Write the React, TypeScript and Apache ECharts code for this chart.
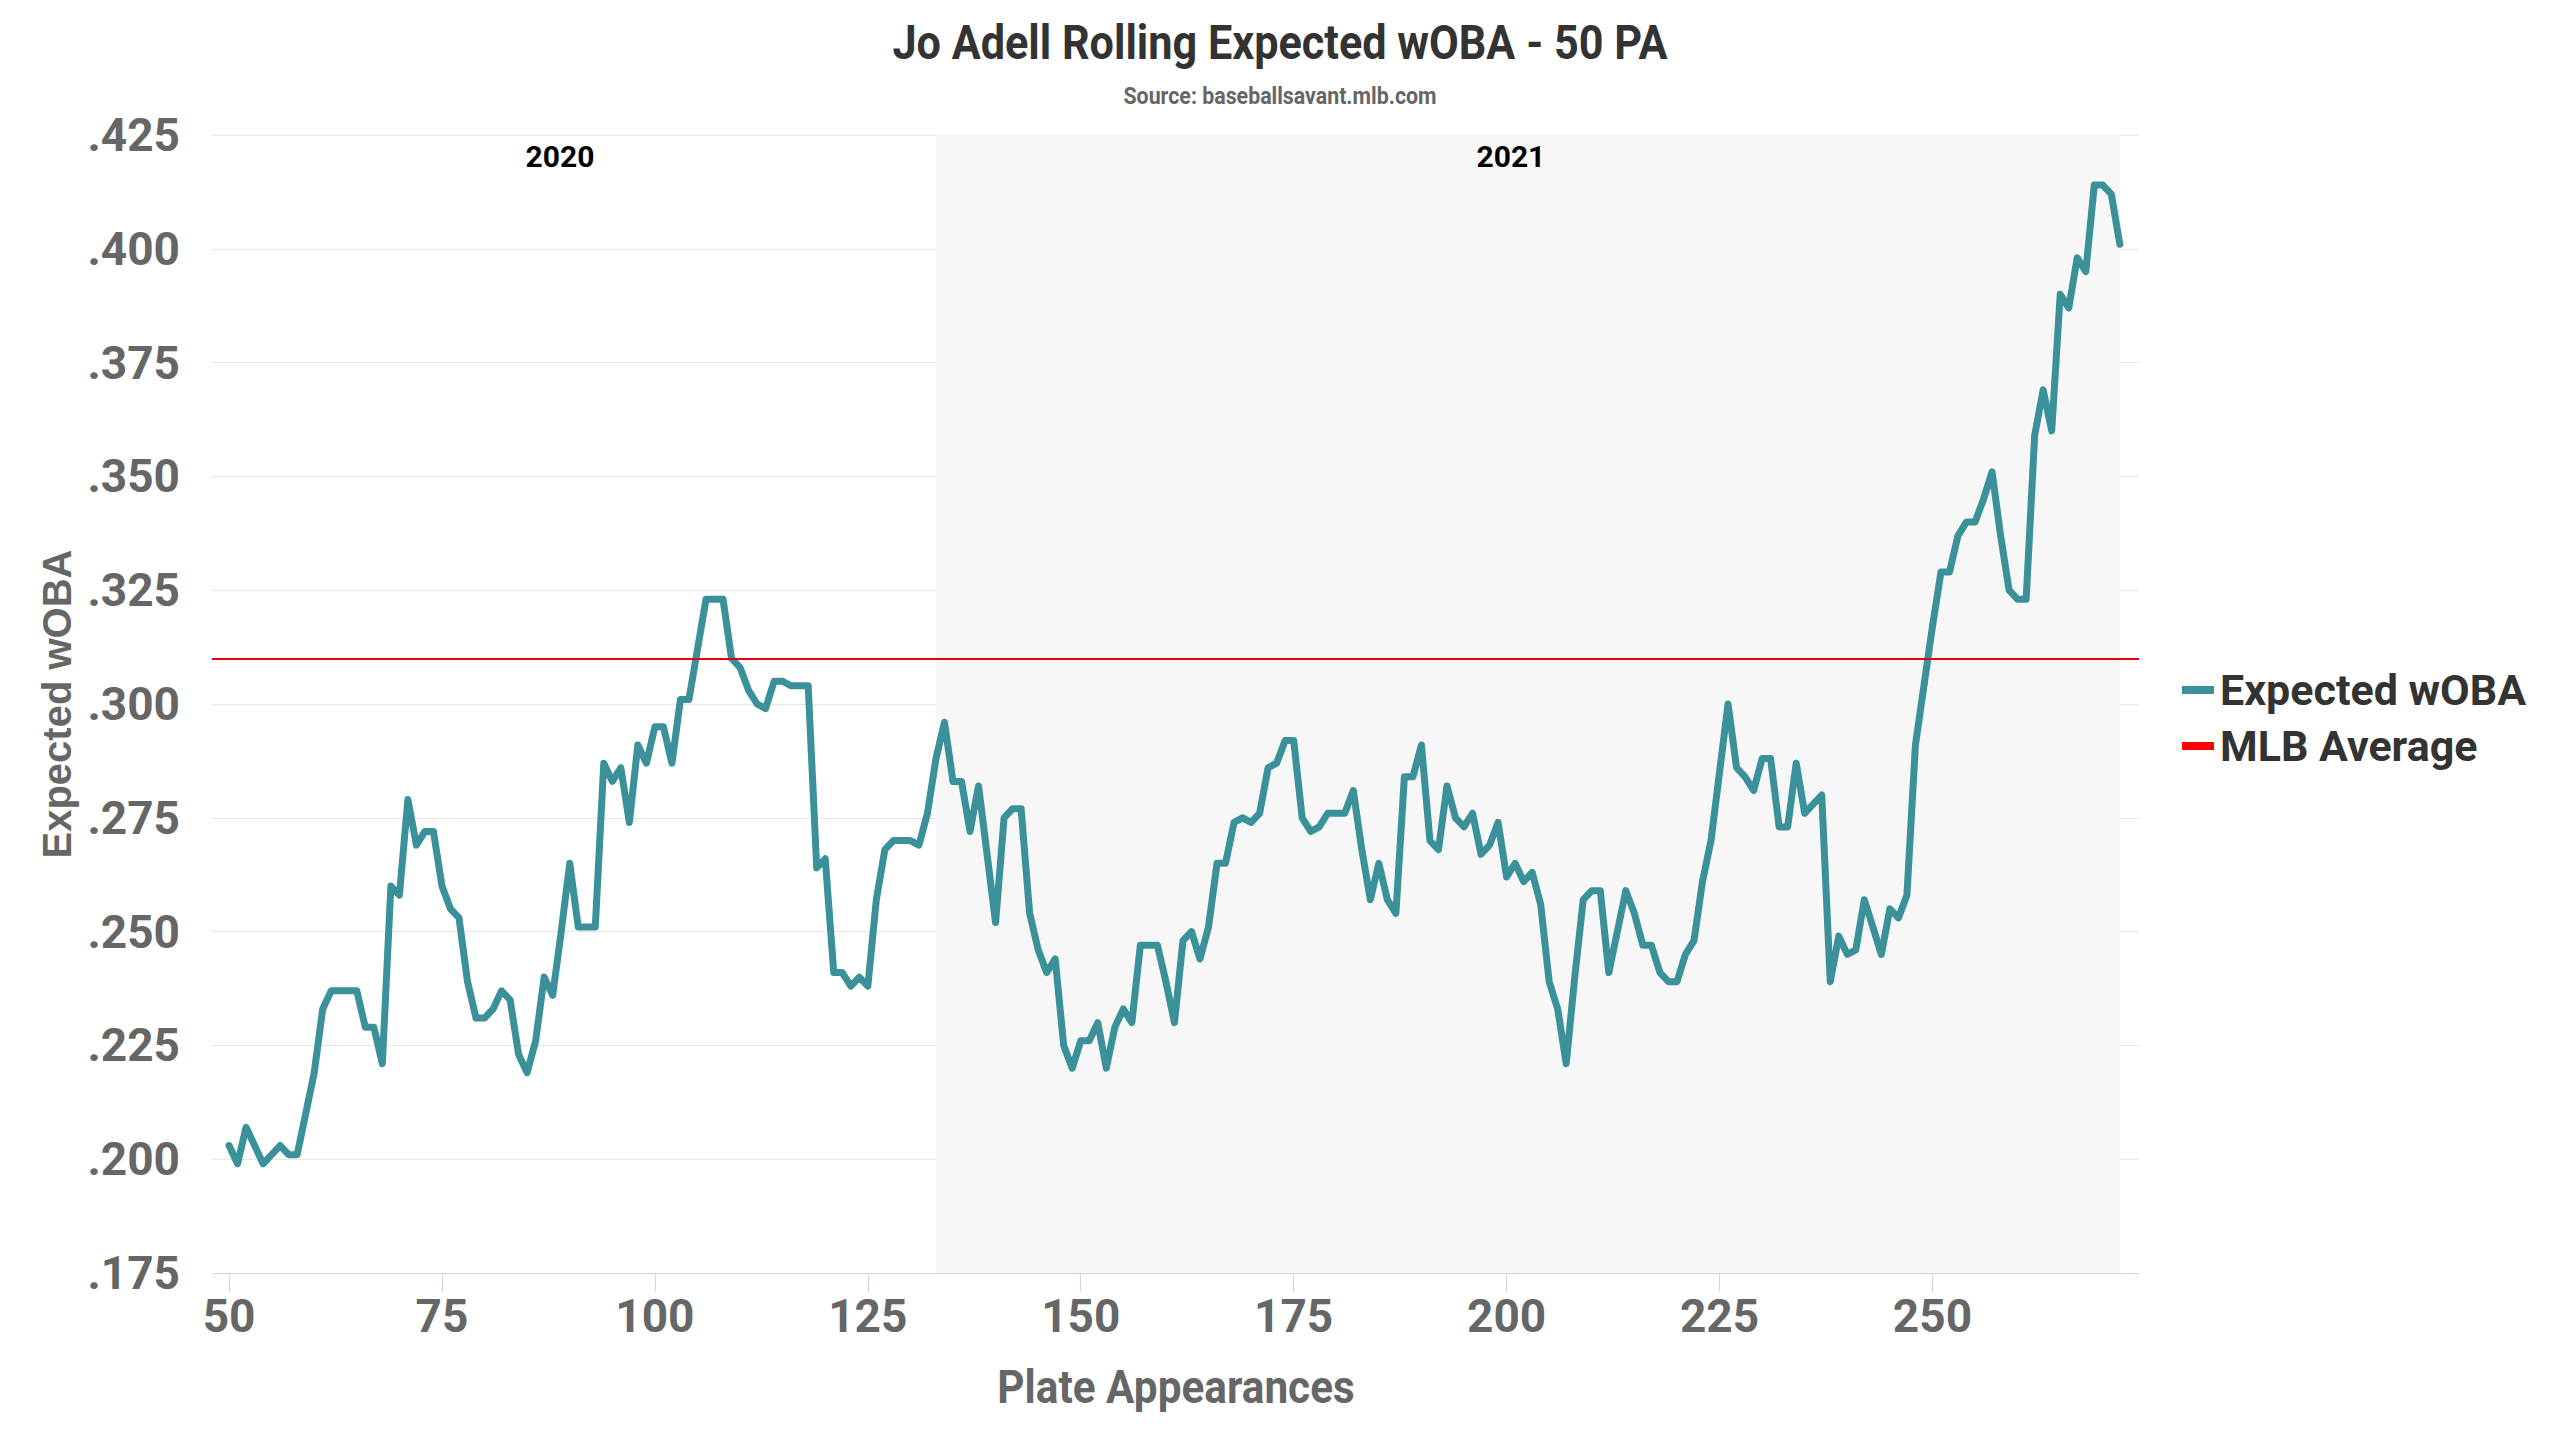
import React, { useEffect, useRef } from "react";
import * as echarts from "echarts";

// rolling 50 PA expected wOBA, one value per plate appearance from PA 50
const paStart = 50;
const xwoba = [
  0.203, 0.199, 0.207, 0.203, 0.199, 0.201, 0.203, 0.201, 0.201, 0.21,
  0.219, 0.233, 0.237, 0.237, 0.237, 0.237, 0.229, 0.229, 0.221, 0.26,
  0.258, 0.279, 0.269, 0.272, 0.272, 0.26, 0.255, 0.253, 0.239, 0.231,
  0.231, 0.233, 0.237, 0.235, 0.223, 0.219, 0.226, 0.24, 0.236, 0.25,
  0.265, 0.251, 0.251, 0.251, 0.287, 0.283, 0.286, 0.274, 0.291, 0.287,
  0.295, 0.295, 0.287, 0.301, 0.301, 0.312, 0.323, 0.323, 0.323, 0.31,
  0.308, 0.303, 0.3, 0.299, 0.305, 0.305, 0.304, 0.304, 0.304, 0.264,
  0.266, 0.241, 0.241, 0.238, 0.24, 0.238, 0.257, 0.268, 0.27, 0.27,
  0.27, 0.269, 0.276, 0.288, 0.296, 0.283, 0.283, 0.272, 0.282, 0.267,
  0.252, 0.275, 0.277, 0.277, 0.254, 0.246, 0.241, 0.244, 0.225, 0.22,
  0.226, 0.226, 0.23, 0.22, 0.229, 0.233, 0.23, 0.247, 0.247, 0.247,
  0.239, 0.23, 0.248, 0.25, 0.244, 0.251, 0.265, 0.265, 0.274, 0.275,
  0.274, 0.276, 0.286, 0.287, 0.292, 0.292, 0.275, 0.272, 0.273, 0.276,
  0.276, 0.276, 0.281, 0.268, 0.257, 0.265, 0.257, 0.254, 0.284, 0.284,
  0.291, 0.27, 0.268, 0.282, 0.275, 0.273, 0.276, 0.267, 0.269, 0.274,
  0.262, 0.265, 0.261, 0.263, 0.256, 0.239, 0.233, 0.221, 0.24, 0.257,
  0.259, 0.259, 0.241, 0.25, 0.259, 0.254, 0.247, 0.247, 0.241, 0.239,
  0.239, 0.245, 0.248, 0.261, 0.27, 0.285, 0.3, 0.286, 0.284, 0.281,
  0.288, 0.288, 0.273, 0.273, 0.287, 0.276, 0.278, 0.28, 0.239, 0.249,
  0.245, 0.246, 0.257, 0.251, 0.245, 0.255, 0.253, 0.258, 0.291, 0.304,
  0.317, 0.329, 0.329, 0.337, 0.34, 0.34, 0.345, 0.351, 0.337, 0.325,
  0.323, 0.323, 0.359, 0.369, 0.36, 0.39, 0.387, 0.398, 0.395, 0.414,
  0.414, 0.412, 0.401,
];
const mlbAverage = 0.31;

const xTicks = [50, 75, 100, 125, 150, 175, 200, 225, 250];
const seasonLabels = ["2020", "2021"];
const seasonStartPA = [48, 133];
const seasonEndPA = [133, 272];

// Roboto squeezed sideways, to stand in for the condensed face of the original
const condensed = (text: string, x: number, y: number, size: number, color: string, sx: number) => ({
  type: "text",
  x,
  y,
  scaleX: sx,
  style: {
    text,
    fill: color,
    font: `bold ${size}px Roboto`,
    textAlign: "center",
    textVerticalAlign: "middle",
  },
});

const App: React.FC = () => {
  const chartRef = useRef<HTMLDivElement>(null);

  useEffect(() => {
    const chart = echarts.init(chartRef.current, null, { renderer: "svg" });

    const lineData = xwoba.map((v, i) => [paStart + i, v]);

    const option: any = {
      animation: false,
      backgroundColor: "#ffffff",
      textStyle: { fontFamily: "Roboto" },
      graphic: [
        condensed("Jo Adell Rolling Expected wOBA - 50 PA", 1280, 43, 48, "#333333", 0.9),
        condensed("Source: baseballsavant.mlb.com", 1280, 96, 24, "#666666", 0.89),
        condensed("Plate Appearances", 1176, 1387, 46, "#666666", 0.92),
      ],
      grid: { left: 212, top: 135, width: 1927, height: 1138 },
      legend: {
        orient: "vertical",
        left: 2177,
        top: 661,
        icon: "rect",
        itemWidth: 32,
        itemHeight: 8,
        itemGap: 8,
        data: ["Expected wOBA", "MLB Average"],
        textStyle: {
          fontSize: 43,
          fontWeight: "bold",
          color: "#333333",
          lineHeight: 48,
          padding: [0, 0, 0, 1],
        },
      },
      xAxis: {
        type: "value",
        min: 48,
        max: 274.25,
        axisLine: { show: true, lineStyle: { color: "#ccd6eb", width: 1 } },
        axisTick: {
          show: true,
          length: 19,
          customValues: xTicks,
          lineStyle: { color: "#ccd6eb" },
        },
        axisLabel: {
          customValues: xTicks,
          fontSize: 46,
          fontWeight: "bold",
          color: "#666666",
          margin: 20,
        },
        splitLine: { show: false },
      },
      yAxis: {
        type: "value",
        min: 0.175,
        max: 0.425,
        interval: 0.025,
        name: "Expected wOBA",
        nameLocation: "middle",
        nameGap: 131,
        nameTextStyle: {
          fontFamily: "Liberation Sans",
          fontSize: 40,
          fontWeight: "bold",
          color: "#666666",
        },
        axisLine: { show: false },
        axisTick: { show: false },
        axisLabel: {
          fontSize: 46,
          fontWeight: "bold",
          color: "#666666",
          margin: 32,
          formatter: (v: number) => v.toFixed(3).replace(/^0/, ""),
        },
        splitLine: { lineStyle: { color: "#e6e6e6", width: 1 } },
      },
      series: [
        {
          name: "MLB Average",
          type: "line",
          data: [],
          z: 2,
          itemStyle: { color: "#ff0000" },
          lineStyle: { color: "#ff0000" },
          markLine: {
            silent: true,
            symbol: "none",
            label: { show: false },
            lineStyle: { color: "#e8000b", width: 2, type: "solid" },
            data: [{ yAxis: mlbAverage }],
          },
          markArea: {
            silent: true,
            data: seasonLabels.map((name, i) => [
              {
                name,
                xAxis: seasonStartPA[i],
                itemStyle: { color: i === 0 ? "rgba(0,0,0,0)" : "#f7f7f7" },
                label: {
                  show: true,
                  position: "insideTop",
                  distance: 6,
                  offset: [i === 0 ? -14 : -17, 0],
                  color: "#000000",
                  fontSize: 30,
                  fontWeight: "bold",
                },
              },
              { xAxis: seasonEndPA[i] },
            ]),
          },
        },
        {
          name: "Expected wOBA",
          type: "line",
          data: lineData,
          z: 3,
          showSymbol: false,
          symbol: "none",
          smooth: false,
          itemStyle: { color: "#3a9199" },
          lineStyle: { color: "#3a9199", width: 7, join: "round", cap: "round" },
        },
      ],
    };

    chart.setOption(option);
    return () => {
      chart.dispose();
    };
  }, []);

  return (
    <div
      ref={chartRef}
      style={{ position: "fixed", left: 0, top: 0, width: 2560, height: 1440 }}
    />
  );
};

export default App;
